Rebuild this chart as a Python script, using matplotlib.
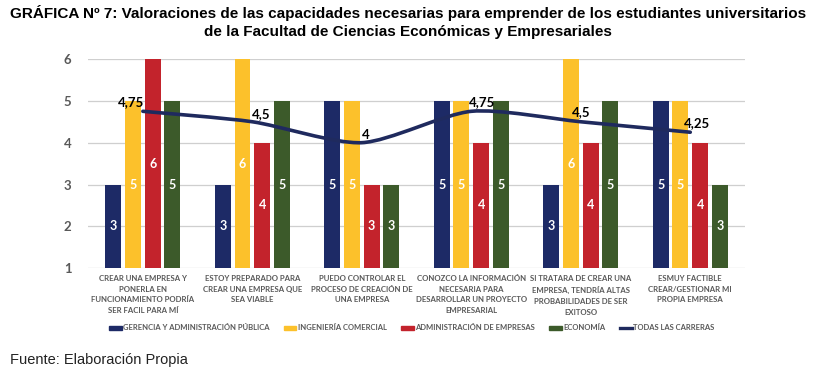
import numpy as np
import matplotlib
matplotlib.use("Agg")
from matplotlib import pyplot as plt
from matplotlib.path import Path
from matplotlib.patches import PathPatch
from matplotlib.lines import Line2D

categories = [
    "CREAR UNA EMPRESA Y\nPONERLA EN\nFUNCIONAMIENTO PODRÍA\nSER FACIL PARA MÍ",
    "ESTOY PREPARADO PARA\nCREAR UNA EMPRESA QUE\nSEA VIABLE",
    "PUEDO CONTROLAR EL\nPROCESO DE CREACIÓN DE\nUNA EMPRESA",
    "CONOZCO LA INFORMACIÓN\nNECESARIA PARA\nDESARROLLAR UN PROYECTO\nEMPRESARIAL",
    "SI TRATARA DE CREAR UNA\nEMPRESA, TENDRÍA ALTAS\nPROBABILIDADES DE SER\nEXITOSO",
    "ESMUY FACTIBLE\nCREAR/GESTIONAR MI\nPROPIA EMPRESA",
]
series_names = [
    "GERENCIA Y ADMINISTRACIÓN PÚBLICA",
    "INGENIERÍA COMERCIAL",
    "ADMINISTRACIÓN DE EMPRESAS",
    "ECONOMÍA",
]
gerencia = [3, 3, 5, 5, 3, 5]
ingenieria = [5, 6, 5, 5, 6, 5]
administracion = [6, 4, 3, 4, 4, 4]
economia = [5, 5, 3, 5, 5, 3]
todas = [4.75, 4.5, 4, 4.75, 4.5, 4.25]
todas_labels = ["4,75", "4,5", "4", "4,75", "4,5", "4,25"]
line_name = "TODAS LAS CARRERAS"

colors = ["#1d2a66", "#fcc12b", "#c3232c", "#3c5a2a"]
line_color = "#1f2a5e"
gray = "#595959"

fig = plt.figure(figsize=(8.16, 3.71), dpi=100)
ax = fig.add_axes([0.108, 0.277, 0.805, 0.564])

x = np.arange(len(categories))
width = 0.146
step = 0.18
base = 1
for i, (vals, c) in enumerate(zip([gerencia, ingenieria, administracion, economia], colors)):
    xs = x + (i - 1.5) * step
    h = np.array(vals) - base
    ax.bar(xs, h, width=width, bottom=base, color=c, zorder=2)
    for xi, v in zip(xs, vals):
        ax.text(xi, (base + v) / 2, str(v), ha="center", va="center",
                color="white", fontsize=9, fontweight="bold", family="Lato", zorder=3)

# smoothed line (bezier through the points, like the spreadsheet)
pts = np.column_stack([x, todas]).astype(float)
verts = [pts[0]]
codes = [Path.MOVETO]
for k in range(len(pts) - 1):
    p0 = pts[k - 1] if k > 0 else pts[k]
    p1, p2 = pts[k], pts[k + 1]
    p3 = pts[k + 2] if k + 2 < len(pts) else pts[k + 1]
    c1 = p1 + (p2 - p0) / 8
    c2 = p2 - (p3 - p1) / 8
    verts += [c1, c2, p2]
    codes += [Path.CURVE4] * 3
ax.add_patch(PathPatch(Path(verts, codes), fill=False, edgecolor=line_color,
                       lw=2.6, capstyle="round", zorder=4))

label_dx = [-0.11, 0.08, 0.04, 0.1, 0.0, 0.06]
label_dy = [0.22, 0.18, 0.18, 0.22, 0.22, 0.22]
for xi, v, t, dx, dy in zip(x, todas, todas_labels, label_dx, label_dy):
    ax.text(xi + dx, v + dy, t, ha="center", va="center", fontsize=9.5,
            fontweight="bold", family="Lato", color="black", zorder=5)

ax.set_xlim(-0.5, len(categories) - 0.5)
ax.set_ylim(1, 6)
ax.set_yticks(range(1, 7))
ax.set_yticklabels([str(v) for v in range(1, 7)], fontsize=9.5, fontweight="bold",
                   color=gray, family="Lato")
ax.set_xticks(x)
ax.set_xticklabels(categories, fontsize=5.6, color=gray, family="Lato",
                   fontweight="bold", linespacing=1.6, va="top")
ax.tick_params(axis="both", length=0)
ax.tick_params(axis="y", pad=12)
ax.tick_params(axis="x", pad=5)
for s in ax.spines.values():
    s.set_visible(False)
ax.yaxis.grid(True, color="#cfcfcf", lw=0.9, zorder=0)
ax.set_axisbelow(True)

handles = [plt.Rectangle((0, 0), 1, 1, color=c) for c in colors]
handles.append(Line2D([0], [0], color=line_color, lw=2.4))
fig.legend(handles, series_names + [line_name], loc="center", ncol=5,
           bbox_to_anchor=(0.505, 1 - 328 / 371), frameon=False,
           prop={"family": "Lato", "size": 5.5, "weight": "bold"}, labelcolor=gray,
           handlelength=1.6, handleheight=0.5, handletextpad=0.2, columnspacing=1.9)

fig.text(0.5, 1 - 13 / 371, "GRÁFICA Nº 7: Valoraciones de las capacidades necesarias para emprender de los estudiantes universitarios",
         ha="center", va="center", fontsize=11, fontweight="bold", family="Liberation Sans")
fig.text(0.5, 1 - 32 / 371, "de la Facultad de Ciencias Económicas y Empresariales",
         ha="center", va="center", fontsize=11, fontweight="bold", family="Liberation Sans")
fig.text(10 / 816, 1 - 360 / 371, "Fuente: Elaboración Propia", ha="left", va="center",
         fontsize=10.5, family="Liberation Sans", color="#222222")

fig.savefig("out.png", dpi=100)
